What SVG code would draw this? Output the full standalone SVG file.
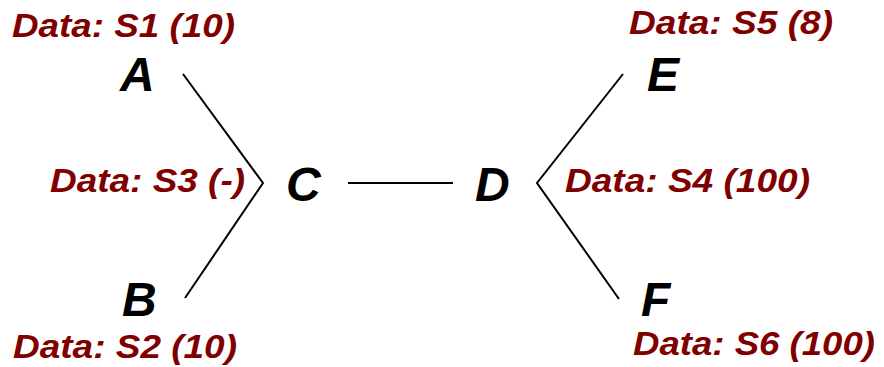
<svg xmlns="http://www.w3.org/2000/svg" width="884" height="367" viewBox="0 0 884 367">
<style>
.node{font-family:"Liberation Sans",Arial,sans-serif;font-weight:bold;font-style:italic;font-size:48px;fill:#000}
.data{font-family:"Liberation Sans",Arial,sans-serif;font-weight:bold;font-style:italic;font-size:34px;fill:#800000}
.edge{fill:none;stroke:#000;stroke-width:2}
</style>
<rect width="884" height="367" fill="#fff"/>
<g id="connectors">
<polyline class="edge" points="183,74 263,183 185,298"/>
<line class="edge" x1="348" y1="183" x2="453" y2="183"/>
<polyline class="edge" points="623,74 537,183 619,299"/>
</g>
<g id="A"><text class="node" x="120" y="91">A</text><text class="data" x="12" y="37" textLength="223" lengthAdjust="spacingAndGlyphs">Data: S1 (10)</text></g>
<g id="B"><text class="node" x="122" y="316">B</text><text class="data" x="13" y="358" textLength="224" lengthAdjust="spacingAndGlyphs">Data: S2 (10)</text></g>
<g id="C"><text class="node" x="286" y="201">C</text><text class="data" x="50" y="192" textLength="195" lengthAdjust="spacingAndGlyphs">Data: S3 (-)</text></g>
<g id="D"><text class="node" x="475" y="201">D</text><text class="data" x="565" y="192" textLength="245" lengthAdjust="spacingAndGlyphs">Data: S4 (100)</text></g>
<g id="E"><text class="node" x="647" y="91">E</text><text class="data" x="629" y="34" textLength="204" lengthAdjust="spacingAndGlyphs">Data: S5 (8)</text></g>
<g id="F"><text class="node" x="641" y="316">F</text><text class="data" x="633" y="355" textLength="242" lengthAdjust="spacingAndGlyphs">Data: S6 (100)</text></g>
</svg>
